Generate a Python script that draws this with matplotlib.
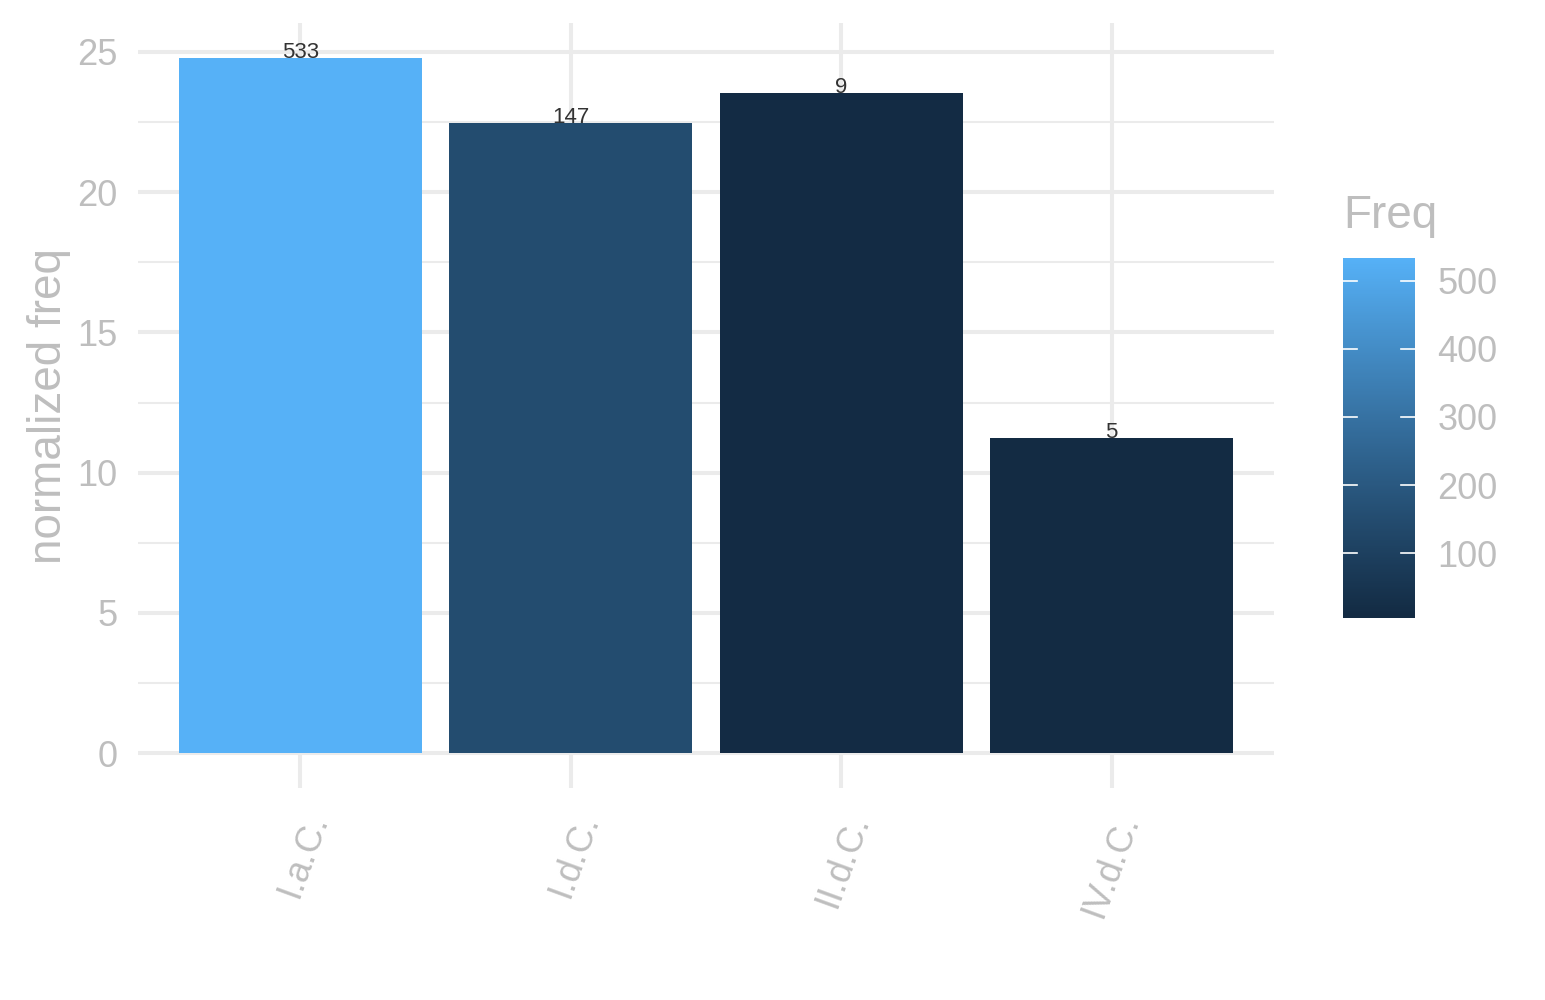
import numpy as np
import matplotlib
matplotlib.use('Agg')
import matplotlib.pyplot as plt
from matplotlib.colors import ListedColormap, Normalize
from matplotlib.transforms import ScaledTranslation

plt.rcParams['font.family'] = ['Liberation Sans', 'DejaVu Sans']

# data
periods = ['I.a.C.', 'I.d.C.', 'II.d.C.', 'IV.d.C.']
norm_freq = [24.79, 22.47, 23.54, 11.23]
freq = [533, 147, 9, 5]
legend_ticks = [100, 200, 300, 400, 500]
y_ticks = [0, 5, 10, 15, 20, 25]

TXT = '#BEBEBE'
GRID = '#EBEBEB'


# ggplot's default gradient (#132B43 -> #56B1F7), interpolated in Lab
def srgb_to_lab(c):
    c = np.asarray(c, float)
    lin = np.where(c <= 0.04045, c / 12.92, ((c + 0.055) / 1.055) ** 2.4)
    m = np.array([[0.4124, 0.3576, 0.1805],
                  [0.2126, 0.7152, 0.0722],
                  [0.0193, 0.1192, 0.9505]])
    xyz = m @ lin / np.array([0.95047, 1.0, 1.08883])
    f = np.where(xyz > 0.008856, np.cbrt(xyz), 7.787 * xyz + 16 / 116)
    return np.array([116 * f[1] - 16, 500 * (f[0] - f[1]), 200 * (f[1] - f[2])])


def lab_to_srgb(lab):
    L, a, b = lab
    fy = (L + 16) / 116
    fx = fy + a / 500
    fz = fy - b / 200
    f = np.array([fx, fy, fz])
    xyz = np.where(f ** 3 > 0.008856, f ** 3, (f - 16 / 116) / 7.787)
    xyz = xyz * np.array([0.95047, 1.0, 1.08883])
    minv = np.array([[3.2406, -1.5372, -0.4986],
                     [-0.9689, 1.8758, 0.0415],
                     [0.0557, -0.2040, 1.0570]])
    lin = minv @ xyz
    c = np.where(lin <= 0.0031308, 12.92 * lin, 1.055 * np.clip(lin, 0, None) ** (1 / 2.4) - 0.055)
    return np.clip(c, 0, 1)


low = srgb_to_lab(matplotlib.colors.to_rgb('#132B43'))
high = srgb_to_lab(matplotlib.colors.to_rgb('#56B1F7'))
cmap = ListedColormap([lab_to_srgb(low + t * (high - low)) for t in np.linspace(0, 1, 256)])
norm = Normalize(vmin=min(freq), vmax=max(freq))

fig = plt.figure(figsize=(15.45, 10), dpi=100)
ax = fig.add_axes([138 / 1545, 0.212, (1274 - 138) / 1545, 0.977 - 0.212])

x = np.arange(1, len(periods) + 1)
ax.bar(x, norm_freq, width=0.9, color=[cmap(norm(f)) for f in freq], zorder=2)
for xi, v, f in zip(x, norm_freq, freq):
    ax.text(xi, v, str(f), ha='center', va='baseline', fontsize=16, color='#333333', zorder=3)

ax.set_xlim(0.4, len(periods) + 0.6)
ymax = max(norm_freq)
ax.set_ylim(-0.05 * ymax, 1.05 * ymax)

ax.set_yticks(y_ticks)
ax.set_yticks([2.5, 7.5, 12.5, 17.5, 22.5], minor=True)
ax.set_xticks(x)
ax.set_xticklabels([])
# rotated category labels, drawn as texts below the panel
lab_tr = ax.get_xaxis_transform() + ScaledTranslation(18 / 100, -27 / 100, fig.dpi_scale_trans)
for xi, name in zip(x, periods):
    ax.text(xi, 0, name, transform=lab_tr, rotation=70, ha='right', va='center',
            rotation_mode='anchor', fontsize=26, color=TXT)
ax.grid(which='major', color=GRID, linewidth=2.9, zorder=0)
ax.grid(which='minor', axis='y', color=GRID, linewidth=1.5, zorder=0)
ax.tick_params(which='both', length=0, labelsize=26, labelcolor=TXT)
ax.tick_params(axis='y', pad=15)
for s in ax.spines.values():
    s.set_visible(False)
ax.set_ylabel('normalized freq', fontsize=33, color=TXT, labelpad=4)

# colour bar legend
cax = fig.add_axes([1343 / 1545, (1000 - 618) / 1000, 72 / 1545, 360 / 1000])
grad = np.linspace(norm.vmin, norm.vmax, 300)[:, None]
cax.imshow(grad, extent=[0, 1, norm.vmin, norm.vmax], origin='lower', aspect='auto',
           cmap=cmap, norm=norm)
for t in legend_ticks:
    cax.plot([0, 0.2], [t, t], color='white', linewidth=1.2)
    cax.plot([0.8, 1], [t, t], color='white', linewidth=1.2)
cax.set_xlim(0, 1)
cax.set_ylim(norm.vmin, norm.vmax)
cax.set_xticks([])
cax.yaxis.tick_right()
cax.set_yticks(legend_ticks)
cax.tick_params(length=0, labelsize=26, labelcolor=TXT, pad=16)
for s in cax.spines.values():
    s.set_visible(False)
fig.text(1343 / 1545, 1 - 216 / 1000, 'Freq', fontsize=33, color=TXT, ha='left', va='center')

fig.savefig('out.png', dpi=100, facecolor='white')
